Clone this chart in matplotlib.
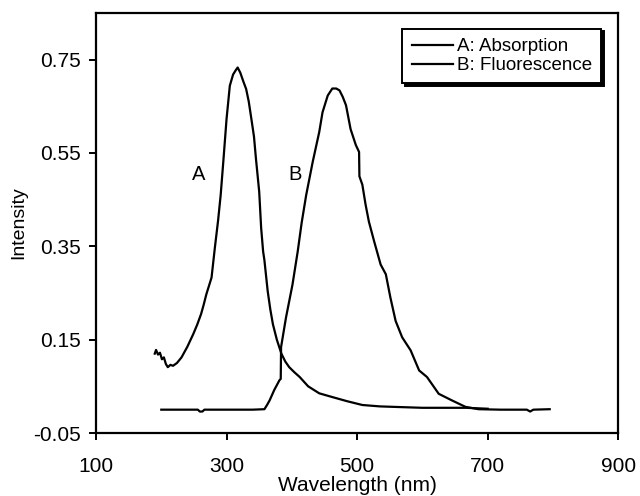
import matplotlib
matplotlib.use('Agg')
import matplotlib.pyplot as plt

plt.rcParams['font.family'] = ['Liberation Sans', 'DejaVu Sans']

# absorption spectrum (A)
abs_wl = [190, 192, 195, 198, 201, 204, 207, 210, 214, 218, 224, 231, 240, 249, 255, 261, 265,
          269, 277, 282, 287, 291, 295, 300, 305, 310, 314, 317, 321, 326, 330, 334, 338, 342,
          345, 350, 353, 356, 358, 363, 367, 371, 377, 384, 390, 396, 404, 412, 425, 442, 462,
          485, 508, 535, 556, 600, 640, 667, 700]
abs_int = [0.120, 0.128, 0.118, 0.122, 0.108, 0.112, 0.098, 0.091, 0.096, 0.094, 0.100, 0.112,
           0.135, 0.162, 0.182, 0.205, 0.225, 0.247, 0.283, 0.346, 0.405, 0.460, 0.531, 0.623,
           0.694, 0.718, 0.727, 0.733, 0.722, 0.702, 0.687, 0.660, 0.623, 0.585, 0.538, 0.467,
           0.389, 0.339, 0.320, 0.254, 0.215, 0.183, 0.150, 0.120, 0.103, 0.091, 0.080, 0.070,
           0.050, 0.035, 0.027, 0.018, 0.010, 0.007, 0.006, 0.004, 0.004, 0.004, 0.002]

# fluorescence spectrum (B)
fl_wl = [200, 230, 256, 259, 263, 266, 300, 340, 358, 362, 366, 373, 381, 383, 383.5, 391,
         401, 409, 415, 422, 432, 442, 447, 455, 462, 468, 473, 478, 483, 490, 498, 503, 503.5,
         508, 513, 518, 526, 536, 544, 551, 559, 569, 582, 595, 607, 625, 645, 666, 686, 720,
         760, 765, 770, 795]
fl_int = [0.0, 0.0, 0.0, -0.004, -0.004, 0.0, 0.0, 0.0, 0.001, 0.010, 0.020, 0.042, 0.063, 0.066,
          0.134, 0.197, 0.268, 0.339, 0.400, 0.460, 0.531, 0.595, 0.637, 0.673, 0.688, 0.688,
          0.684, 0.670, 0.652, 0.601, 0.567, 0.552, 0.500, 0.482, 0.439, 0.403, 0.361, 0.311,
          0.290, 0.240, 0.190, 0.155, 0.127, 0.084, 0.070, 0.034, 0.020, 0.006, 0.001, 0.0, 0.0,
          -0.004, 0.0, 0.001]

xticks = [100, 300, 500, 700, 900]
yticks = [-0.05, 0.15, 0.35, 0.55, 0.75]

fig = plt.figure(figsize=(6.4, 4.96), dpi=100)
ax = fig.add_axes([0.15, 0.127, 0.816, 0.847])

ax.plot(abs_wl, abs_int, color='black', lw=1.6, label='A: Absorption')
ax.plot(fl_wl, fl_int, color='black', lw=1.6, label='B: Fluorescence')

ax.text(257, 0.503, 'A', fontsize=14.5, ha='center', va='center')
ax.text(405, 0.503, 'B', fontsize=14.5, ha='center', va='center')

ax.set_xlim(100, 900)
ax.set_ylim(-0.05, 0.85)
ax.set_xticks(xticks)
ax.set_yticks(yticks)
ax.set_yticklabels(['%.2f' % v for v in yticks])
ax.tick_params(direction='out', length=5, width=1.4, labelsize=15)
ax.tick_params(axis='x', pad=12)
ax.tick_params(axis='y', pad=6)

for s in ax.spines.values():
    s.set_linewidth(1.6)

ax.set_xlabel('Wavelength (nm)', fontsize=15, labelpad=0)
ax.set_ylabel('Intensity', fontsize=14, labelpad=4)

leg = ax.legend(loc='upper right', fontsize=13.5, frameon=True, fancybox=False,
                shadow={'color': 'black', 'alpha': 1}, handlelength=2.2,
                handletextpad=0.2, borderpad=0.5, labelspacing=0.1,
                bbox_to_anchor=(0.985, 0.985))
leg.get_frame().set_edgecolor('black')
leg.get_frame().set_linewidth(1.4)

fig.savefig('out.png', dpi=100)
